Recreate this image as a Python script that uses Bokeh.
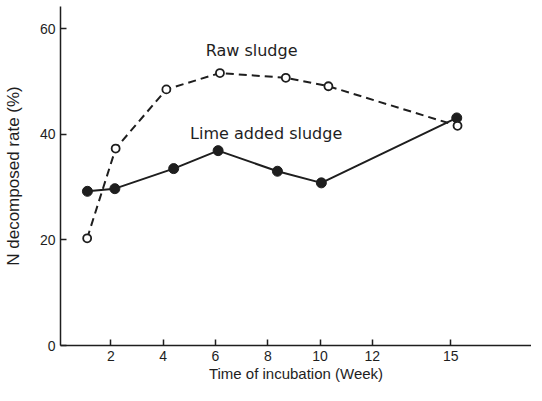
from bokeh.plotting import figure
from bokeh.models import Range1d, FixedTicker, Label
from bokeh.embed import file_html
from bokeh.resources import INLINE

# Data
lime_weeks = [1.10, 2.15, 4.40, 6.10, 8.37, 10.05, 15.23]
lime_rate = [29.2, 29.7, 33.5, 36.9, 33.0, 30.8, 43.1]
raw_weeks = [1.09, 2.18, 4.12, 6.17, 8.69, 10.32, 15.26]
raw_rate = [20.3, 37.3, 48.5, 51.6, 50.7, 49.1, 41.6]
x_ticks = [2, 4, 6, 8, 10, 12, 15]
y_ticks = [0, 20, 40, 60]

INK = "#1e1e1e"

p = figure(width=531, height=385, output_backend="svg", toolbar_location=None,
           x_range=Range1d(0.07, 18.09), y_range=Range1d(0, 64.2),
           min_border_left=58, min_border_right=0, min_border_top=6,
           min_border_bottom=40)
p.grid.visible = False
p.outline_line_color = None
p.background_fill_color = "white"
p.border_fill_color = "white"

for ax in (p.xaxis[0], p.yaxis[0]):
    ax.axis_line_color = INK
    ax.axis_line_width = 1.5
    ax.major_tick_line_color = INK
    ax.major_tick_line_width = 1.5
    ax.major_tick_in = 6
    ax.major_tick_out = 0
    ax.minor_tick_line_color = None
    ax.major_label_text_font = "Liberation Sans"
    ax.major_label_text_font_size = "14px"
    ax.major_label_text_color = INK
    ax.axis_label_text_color = INK
    ax.axis_label_text_font_style = "normal"

p.xaxis.ticker = FixedTicker(ticks=x_ticks)
p.yaxis.ticker = FixedTicker(ticks=y_ticks)
p.xaxis.major_label_standoff = 5
p.yaxis.major_label_standoff = 5

p.xaxis.axis_label = "Time of incubation (Week)"
p.xaxis.axis_label_text_font = "Liberation Sans"
p.xaxis.axis_label_text_font_size = "15px"
p.xaxis.axis_label_standoff = 1

p.yaxis.axis_label = "N decomposed rate (%)"
p.yaxis.axis_label_text_font = "Liberation Sans"
p.yaxis.axis_label_text_font_size = "17px"
p.yaxis.axis_label_standoff = 14

# Lines
p.line(raw_weeks, raw_rate, line_color=INK, line_width=2, line_dash="8 5")
p.line(lime_weeks, lime_rate, line_color=INK, line_width=2)

# Markers
p.scatter(lime_weeks, lime_rate, size=10, fill_color=INK, line_color=INK)
p.scatter(raw_weeks, raw_rate, size=8, fill_color="white", line_color=INK, line_width=1.8)

# Annotations
p.add_layout(Label(x=7.38, y=55.8, text="Raw sludge", text_align="center",
                   text_baseline="alphabetic", text_font="DejaVu Sans",
                   text_font_size="16px", text_color=INK))
p.add_layout(Label(x=7.94, y=40.2, text="Lime added sludge", text_align="center",
                   text_baseline="alphabetic", text_font="DejaVu Sans",
                   text_font_size="16px", text_color=INK))

open("out.html", "w").write(file_html(p, INLINE))
